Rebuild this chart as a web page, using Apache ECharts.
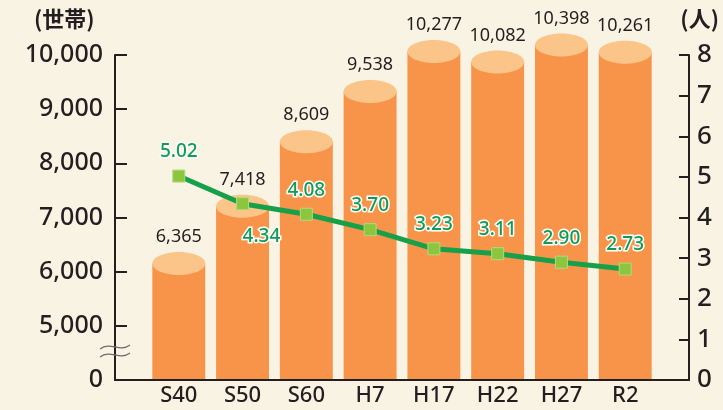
<!DOCTYPE html>
<html>
<head>
<meta charset="utf-8">
<script src="https://cdn.jsdelivr.net/npm/echarts@6/dist/echarts.min.js"></script>
<style>
  html, body { margin: 0; padding: 0; background: #f8f3e3; }
  #chart { width: 723px; height: 410px; }
</style>
</head>
<body>
<div id="chart"></div>
<script>
// 年次
const years = ['S40', 'S50', 'S60', 'H7', 'H17', 'H22', 'H27', 'R2'];
// 世帯数
const households = [6365, 7418, 8609, 9538, 10277, 10082, 10398, 10261];
// 1世帯あたり人員
const perHousehold = [5.02, 4.34, 4.08, 3.70, 3.23, 3.11, 2.90, 2.73];

// 0〜5,000 を省略して表示するためのずらし量
const SHIFT = 4000;
const FONT = '"Noto Sans", "Noto Sans CJK JP", sans-serif';
const DARK = '#231f20';

// 両端に空きを作るため前後にダミーのカテゴリを置く
const cats = [''].concat(years, [' ']);

const chart = echarts.init(document.getElementById('chart'));

const barData = years.map((y, i) => [y, households[i] - SHIFT, households[i]]);
const lineData = years.map((y, i) => [y, perHousehold[i]]);

const option = {
    backgroundColor: '#f8f3e3',
    animation: false,
    grid: { left: 115, right: 34, top: 55, bottom: 30 },
    xAxis: {
        type: 'category',
        data: cats,
        boundaryGap: false,
        axisLine: { lineStyle: { color: DARK, width: 2 } },
        axisTick: { show: false },
        axisLabel: {
            interval: 0, color: DARK, fontSize: 22, fontFamily: FONT, fontWeight: 500, margin: 5
        }
    },
    yAxis: [{
        type: 'value',
        min: 0,
        max: 6000,
        interval: 1000,
        axisLine: { show: true, lineStyle: { color: DARK, width: 2 } },
        axisTick: { show: true, inside: true, length: 12, lineStyle: { color: DARK, width: 2 } },
        splitLine: { show: false },
        axisLabel: {
            color: DARK, fontSize: 25, fontFamily: FONT, fontWeight: 500, margin: 12,
            formatter: v => v === 0 ? '0' : (v + SHIFT).toLocaleString('en-US')
        }
    }, {
        type: 'value',
        min: 0,
        max: 8,
        interval: 1,
        position: 'right',
        axisLine: { show: true, lineStyle: { color: DARK, width: 2 } },
        axisTick: { show: true, inside: true, length: 10, lineStyle: { color: DARK, width: 2 } },
        splitLine: { show: false },
        axisLabel: { color: DARK, fontSize: 26, fontFamily: FONT, fontWeight: 500, margin: 8 }
    }],
    series: [{
        // 円柱の棒
        type: 'custom',
        yAxisIndex: 0,
        encode: { x: 0, y: 1 },
        data: barData,
        z: 2,
        renderItem: function (params, api) {
            const top = api.coord([api.value(0), api.value(1)]);
            const base = api.coord([api.value(0), 0]);
            const w = api.size([1, 0])[0] * 0.83;
            const ry = 11.5;
            const cy = top[1] + ry;
            return {
                type: 'group',
                children: [{
                    type: 'rect',
                    shape: { x: top[0] - w / 2, y: cy, width: w, height: base[1] - cy - 1 },
                    style: { fill: '#f7944a' }
                }, {
                    type: 'ellipse',
                    shape: { cx: top[0], cy: cy, rx: w / 2, ry: ry },
                    style: { fill: '#fbc488' }
                }, {
                    type: 'text',
                    x: top[0],
                    y: top[1] - 6,
                    style: {
                        text: api.value(2).toLocaleString('en-US'),
                        fill: DARK,
                        font: '18px ' + FONT,
                        align: 'center',
                        verticalAlign: 'bottom'
                    }
                }]
            };
        }
    }, {
        // 1世帯あたり人員
        type: 'line',
        yAxisIndex: 1,
        data: lineData,
        z: 5,
        symbol: 'rect',
        symbolSize: 12,
        lineStyle: { color: '#16a04a', width: 5 },
        itemStyle: { color: '#8cc63f', borderColor: '#b3d97a', borderWidth: 1 },
        label: {
            show: true,
            position: 'top',
            distance: 8,
            color: '#0e9d55',
            fontSize: 19,
            fontFamily: FONT,
            fontWeight: 500,
            textBorderColor: '#ffffff',
            textBorderWidth: 3,
            formatter: p => p.value[1].toFixed(2)
        },
        labelLayout: function (params) {
            if (params.dataIndex === 1) {
                return { y: params.labelRect.y + params.labelRect.height + 36 };
            }
        }
    }]
};

chart.setOption(option);

// 軸の単位と省略記号
const p0 = chart.convertToPixel({ yAxisIndex: 0 }, 0);
const p1 = chart.convertToPixel({ yAxisIndex: 0 }, 1000);
const ax = chart.convertToPixel({ xAxisIndex: 0 }, 0);
const breakY = (p0 + p1) / 2;
const wave = (y) => ({
    type: 'bezierCurve',
    shape: { x1: ax - 15, y1: y + 2, x2: ax + 15, y2: y - 2, cpx1: ax - 4, cpy1: y - 6, cpx2: ax + 4, cpy2: y + 6 },
    style: { stroke: '#6b6b6b', lineWidth: 1.2, fill: null },
    z: 100
});

chart.setOption({
    graphic: [
        {
            type: 'text', left: 34, top: 8, z: 100,
            style: { text: '(世帯)', fill: DARK, font: 'bold 22px "Noto Sans CJK JP", sans-serif' }
        },
        {
            type: 'text', right: 4, top: 8, z: 100,
            style: { text: '(人)', fill: DARK, font: 'bold 22px "Noto Sans CJK JP", sans-serif' }
        },
        wave(breakY - 6),
        wave(breakY + 2)
    ]
});
</script>
</body>
</html>
